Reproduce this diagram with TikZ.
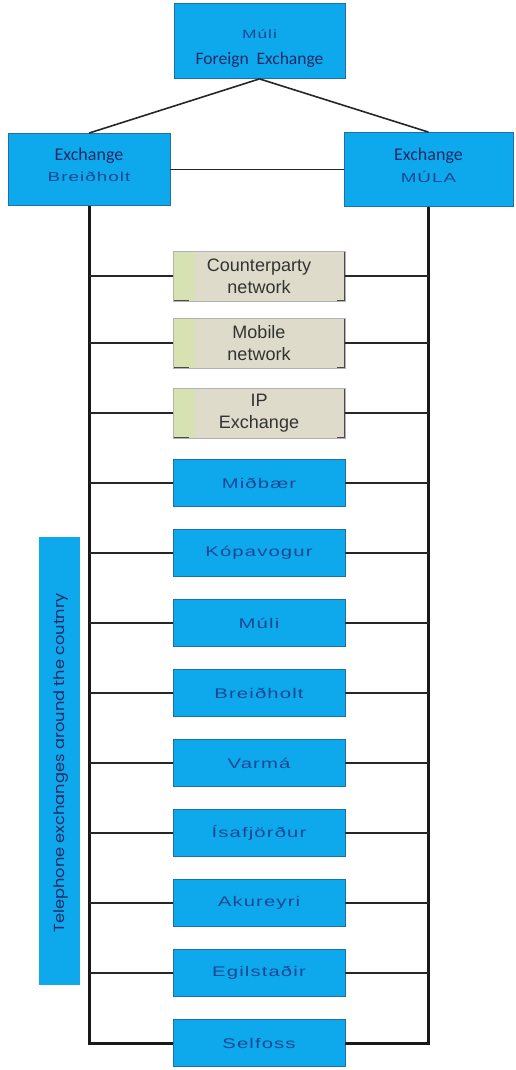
\documentclass[tikz,border=0pt]{standalone}
\usepackage{fontspec}
\usepackage{tikz}
\setmainfont{Carlito}
\newfontfamily\widefont[FakeStretch=1.45,LetterSpace=8]{Liberation Sans}
\newfontfamily\netfont{Liberation Sans}
\newfontfamily\sidefont[FakeStretch=1.12]{Poppins}
\usetikzlibrary{positioning}
\definecolor{exblue}{HTML}{0DA9EC}
\definecolor{exedge}{HTML}{1F6FA8}
\definecolor{exlabel}{HTML}{1A4794}
\definecolor{exnavy}{HTML}{1B2A66}
\definecolor{exbeige}{HTML}{DEDBCB}
\definecolor{exgreen}{HTML}{D6E2B0}
\definecolor{exrim}{HTML}{4A4A4A}

\begin{document}
\begin{tikzpicture}[x=1pt,y=-1pt,
  hub/.style={
    rectangle,
    draw=exedge,
    line width=0.8pt,
    fill=exblue,
    inner sep=0pt,
    align=center,
    text=exnavy
  },
  site/.style={
    hub,
    minimum width=172pt,
    minimum height=47pt,
    text=exlabel,
    font=\widefont\fontsize{14}{16}\selectfont
  },
  net/.style={
    rectangle,
    draw=black!30,
    line width=0.6pt,
    fill=exbeige,
    minimum width=172pt,
    minimum height=50pt,
    inner sep=0pt,
    align=center,
    text=black!80,
    font=\netfont\fontsize{18}{22}\selectfont,
    path picture={
      \fill[left color=exgreen, right color=exbeige]
        (path picture bounding box.north west) rectangle
        ([xshift=22pt]path picture bounding box.south west);
      \draw[exrim, line width=2pt]
        ([xshift=16pt]path picture bounding box.south west) -|
        (path picture bounding box.north west) -- ++(6pt,0);
      \draw[exrim, line width=2pt]
        ([xshift=-8pt]path picture bounding box.north east) -|
        (path picture bounding box.south east) -- ++(-8pt,0);
    }
  },
  bus/.style={line width=3pt, draw=black!90},
  rung/.style={line width=2pt, draw=black!85},
  link/.style={line width=1.6pt, draw=black!85}
]
  \useasboundingbox (0,0) rectangle (515,1070);

  % top of the tree
  \node[hub, minimum width=171pt, minimum height=75pt] (fx) at (259.5,41)
    {\rule{0pt}{24pt}{\widefont\fontsize{12}{14}\selectfont\color{exlabel}Múli}\\[12pt]
     \fontsize{17.5}{20}\selectfont Foreign\ \ Exchange};
  \node[hub, minimum width=162pt, minimum height=72pt] (brei) at (89,169.5)
    {\fontsize{18}{19}\selectfont Exchange\\[7pt]
     {\widefont\fontsize{13}{14}\selectfont\color{exlabel}Breiðholt}\rule[-9pt]{0pt}{9pt}};
  \node[hub, minimum width=169pt, minimum height=74pt] (mula) at (428.5,169.5)
    {\fontsize{18}{19}\selectfont Exchange\\[7pt]
     {\widefont\fontsize{13}{14}\selectfont\color{exlabel}MÚLA}\rule[-9pt]{0pt}{9pt}};

  % networks
  \node[net] (cp) at (259,276) {Counterparty\\network};
  \node[net] (mob) at (259,343) {Mobile\\network};
  \node[net] (ipx) at (259,413) {IP\\Exchange};

  % exchanges around the country
  \node[site] (midb) at (259,483) {Miðbær};
  \node[site] (kop) at (259,553) {Kópavogur};
  \node[site] (muli) at (259,623) {Múli};
  \node[site] (bho) at (259,693) {Breiðholt};
  \node[site] (varma) at (259,763) {Varmá};
  \node[site] (isa) at (259,833) {Ísafjörður};
  \node[site] (aku) at (259,903) {Akureyri};
  \node[site] (egil) at (259,973) {Egilstaðir};
  \node[site] (self) at (259,1043) {Selfoss};

  \node[hub, draw=none, minimum width=41pt, minimum height=448pt] (side) at (59.5,761) {};
  \node[rotate=90, text=exnavy, font=\sidefont\fontsize{14.5}{16}\selectfont] (sidetxt) at (61,763)
    {Telephone exchanges around the coutnry};

  \draw[link] (fx.south) -- (brei.north);
  \draw[link] (fx.south) -- (mula.north);
  \draw[line width=1.2pt, black!85] (brei.east) -- (mula.west);

  \draw[bus] (brei.south) |- (self.west);
  \draw[bus] (mula.south) |- (self.east);

  \draw[rung] (brei.south |- cp.west) -- (cp.west) (cp.east) -- (mula.south |- cp.east);
  \draw[rung] (brei.south |- mob.west) -- (mob.west) (mob.east) -- (mula.south |- mob.east);
  \draw[rung] (brei.south |- ipx.west) -- (ipx.west) (ipx.east) -- (mula.south |- ipx.east);
  \draw[rung] (brei.south |- midb.west) -- (midb.west) (midb.east) -- (mula.south |- midb.east);
  \draw[rung] (brei.south |- kop.west) -- (kop.west) (kop.east) -- (mula.south |- kop.east);
  \draw[rung] (brei.south |- muli.west) -- (muli.west) (muli.east) -- (mula.south |- muli.east);
  \draw[rung] (brei.south |- bho.west) -- (bho.west) (bho.east) -- (mula.south |- bho.east);
  \draw[rung] (brei.south |- varma.west) -- (varma.west) (varma.east) -- (mula.south |- varma.east);
  \draw[rung] (brei.south |- isa.west) -- (isa.west) (isa.east) -- (mula.south |- isa.east);
  \draw[rung] (brei.south |- aku.west) -- (aku.west) (aku.east) -- (mula.south |- aku.east);
  \draw[rung] (brei.south |- egil.west) -- (egil.west) (egil.east) -- (mula.south |- egil.east);
\end{tikzpicture}
\end{document}
